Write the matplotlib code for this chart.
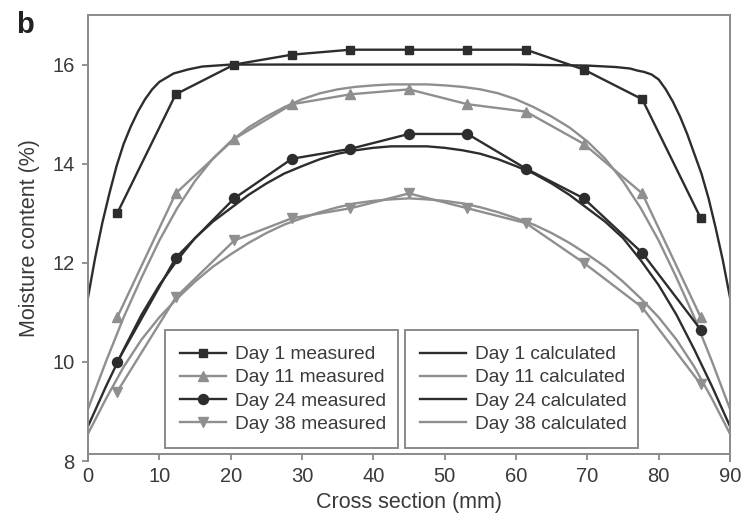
import matplotlib

matplotlib.use("Agg")
import matplotlib.pyplot as plt
from matplotlib.lines import Line2D

plt.rcParams["font.family"] = ["Liberation Sans", "DejaVu Sans"]

DARK = "#2d2d2d"
GRAY = "#8f8f8f"
AXIS = "#8a8a8a"
TEXT = "#3a3a3a"

# measured positions (mm) and moisture content (%)
x_measured = [4.1, 12.3, 20.5, 28.6, 36.8, 45.0, 53.2, 61.4, 69.5, 77.7, 85.9]
day1_measured = [13.0, 15.4, 16.0, 16.2, 16.3, 16.3, 16.3, 16.3, 15.9, 15.3, 12.9]
day11_measured = [10.9, 13.4, 14.5, 15.2, 15.4, 15.5, 15.2, 15.05, 14.4, 13.4, 10.9]
day24_measured = [10.0, 12.1, 13.3, 14.1, 14.3, 14.6, 14.6, 13.9, 13.3, 12.2, 10.65]
day38_measured = [9.4, 11.3, 12.45, 12.9, 13.1, 13.4, 13.1, 12.8, 12.0, 11.1, 9.55]

# calculated profiles
x_calc_day1 = [0, 1, 2, 3, 4, 5, 6, 7, 8, 9, 10, 12, 14, 16, 18, 20, 30, 40, 50, 60, 70,
               74, 76, 77, 78, 79, 80, 81, 82, 83, 84, 85, 86, 87, 88, 89, 90]
day1_calc = [11.3, 12.1, 12.8, 13.4, 13.95, 14.4, 14.75, 15.05, 15.3, 15.5, 15.65, 15.82,
             15.9, 15.96, 15.98, 16.0, 16.0, 16.0, 16.0, 16.0, 15.98, 15.95, 15.92, 15.88,
             15.85, 15.8, 15.7, 15.5, 15.25, 14.95, 14.6, 14.2, 13.8, 13.3, 12.7, 12.05, 11.3]

x_calc = [0, 2.5, 5, 7.5, 10, 12.5, 15, 17.5, 20, 22.5, 25, 27.5, 30, 32.5, 35, 37.5, 40, 42.5, 45,
          47.5, 50, 52.5, 55, 57.5, 60, 62.5, 65, 67.5, 70, 72.5, 75, 77.5, 80, 82.5, 85, 87.5, 90]
day11_calc = [9.05, 10.0, 10.9, 11.7, 12.45, 13.1, 13.65, 14.1, 14.45, 14.73, 14.95, 15.14, 15.3,
              15.42, 15.5, 15.55, 15.58, 15.6, 15.6, 15.6, 15.58, 15.55, 15.5, 15.42, 15.3, 15.14,
              14.95, 14.73, 14.45, 14.1, 13.65, 13.1, 12.45, 11.7, 10.9, 10.0, 9.05]
day24_calc = [8.7, 9.5, 10.25, 10.95, 11.55, 12.05, 12.5, 12.83, 13.1, 13.37, 13.6, 13.8, 13.95,
              14.09, 14.2, 14.27, 14.32, 14.35, 14.35, 14.35, 14.32, 14.27, 14.2, 14.09, 13.95, 13.8,
              13.6, 13.37, 13.1, 12.83, 12.5, 12.05, 11.55, 10.95, 10.25, 9.5, 8.7]
day38_calc = [8.55, 9.25, 9.9, 10.45, 10.9, 11.28, 11.62, 11.92, 12.17, 12.4, 12.6, 12.77, 12.9,
              13.02, 13.12, 13.2, 13.25, 13.28, 13.3, 13.28, 13.25, 13.2, 13.12, 13.02, 12.9, 12.77,
              12.6, 12.4, 12.17, 11.92, 11.62, 11.28, 10.9, 10.45, 9.9, 9.25, 8.55]

x_ticks = [0, 10, 20, 30, 40, 50, 60, 70, 80, 90]
y_ticks = [8, 10, 12, 14, 16]

fig = plt.figure(figsize=(7.47, 5.25), dpi=100)
ax = fig.add_axes([0.1178, 0.1219, 0.8594, 0.8495])

lw = 1.7
ax.plot(x_calc_day1, day1_calc, color=DARK, lw=lw)
ax.plot(x_calc, day11_calc, color=GRAY, lw=lw)
ax.plot(x_calc, day24_calc, color=DARK, lw=lw)
ax.plot(x_calc, day38_calc, color=GRAY, lw=lw)

ax.plot(x_measured, day1_measured, color=DARK, lw=lw, marker="s", ms=5.8)
ax.plot(x_measured, day11_measured, color=GRAY, lw=lw, marker="^", ms=7)
ax.plot(x_measured, day24_measured, color=DARK, lw=lw, marker="o", ms=7.2)
ax.plot(x_measured, day38_measured, color=GRAY, lw=lw, marker="v", ms=7)

ax.set_xlim(0, 90)
ax.set_ylim(8, 17)
ax.set_xticks(x_ticks)
ax.set_yticks(y_ticks)
ax.spines["bottom"].set_position(("data", 8.14))
for side in ax.spines.values():
    side.set_color(AXIS)
    side.set_linewidth(1.4)
ax.tick_params(direction="out", length=4.5, width=1.3, color=AXIS,
               labelsize=14.5, labelcolor=TEXT, pad=5)

ax.set_xlabel("Cross section (mm)", fontsize=15.5, color=TEXT, labelpad=4)
ax.set_ylabel("Moisture content (%)", fontsize=15.5, color=TEXT, labelpad=9)
fig.text(0.022, 0.952, "b", fontsize=21, fontweight="bold", color="#222222",
         va="center", ha="left")

measured_handles = [
    Line2D([], [], color=DARK, lw=lw, marker="s", ms=5.8),
    Line2D([], [], color=GRAY, lw=lw, marker="^", ms=7),
    Line2D([], [], color=DARK, lw=lw, marker="o", ms=7.2),
    Line2D([], [], color=GRAY, lw=lw, marker="v", ms=7),
]
calc_handles = [
    Line2D([], [], color=DARK, lw=lw),
    Line2D([], [], color=GRAY, lw=lw),
    Line2D([], [], color=DARK, lw=lw),
    Line2D([], [], color=GRAY, lw=lw),
]
measured_labels = ["Day 1 measured", "Day 11 measured", "Day 24 measured", "Day 38 measured"]
calc_labels = ["Day 1 calculated", "Day 11 calculated", "Day 24 calculated", "Day 38 calculated"]

legend_style = dict(loc="lower left", mode="expand", borderaxespad=0, fontsize=13.8,
                    fancybox=False, framealpha=1, edgecolor=AXIS, labelcolor=TEXT,
                    handlelength=2.4, handletextpad=0.45, labelspacing=0.3, borderpad=0.8)
leg1 = ax.legend(measured_handles, measured_labels,
                 bbox_to_anchor=(0.12, 0.029, 0.363, 0.27), **legend_style)
leg1.get_frame().set_linewidth(1.4)
ax.add_artist(leg1)
leg2 = ax.legend(calc_handles, calc_labels,
                 bbox_to_anchor=(0.494, 0.029, 0.363, 0.27), **legend_style)
leg2.get_frame().set_linewidth(1.4)

fig.savefig("out.png", dpi=100)
